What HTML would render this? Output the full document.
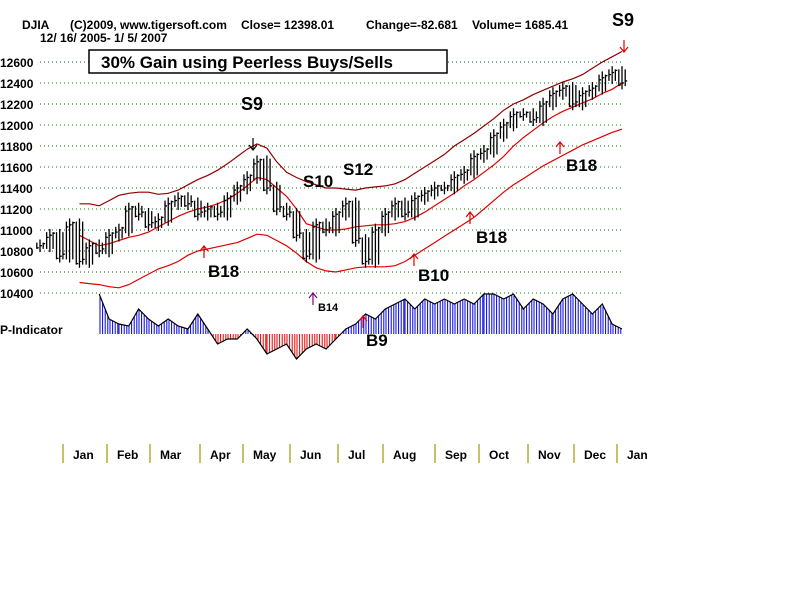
<!DOCTYPE html>
<html><head><meta charset="utf-8"><style>
body{margin:0;background:#fff;}
svg{display:block;font-family:"Liberation Sans",Arial,sans-serif;}
</style></head><body>
<svg id="chart" width="800" height="600">
<g font-size="12" font-weight="bold" fill="#000">
<text x="22" y="29">DJIA</text>
<text x="70" y="29">(C)2009, www.tigersoft.com</text>
<text x="241" y="29">Close=  12398.01</text>
<text x="366" y="29">Change=-82.681</text>
<text x="472" y="29">Volume=  1685.41</text>
<text x="40" y="42">12/ 16/ 2005- 1/ 5/ 2007</text>
</g>
<g id="grid"></g>
<g>
<rect x="89" y="50" width="358" height="23" fill="#fff" stroke="#000" stroke-width="1.5"/>
<text x="101" y="68" font-size="17" font-weight="bold">30% Gain using Peerless Buys/Sells</text>
</g>
<g id="bands"></g>
<g id="bars"></g>
<g id="pind"></g>
<text x="0" y="334" font-size="12" font-weight="bold">P-Indicator</text>
<g id="signals" font-weight="bold"></g>
<g id="months"></g>
</svg>
<script>
const NS="http://www.w3.org/2000/svg";
const closes=[10850,10950,10750,11050,10700,10850,10800,10950,11000,11200,11150,11050,11100,11250,11300,11250,11150,11200,11150,11300,11400,11500,11650,11400,11200,11150,10950,10750,11050,11000,11150,11250,10900,10700,11000,11150,11250,11150,11300,11350,11400,11400,11500,11550,11700,11750,11900,12000,12100,12100,12050,12200,12300,12350,12200,12300,12350,12450,12500,12400];
const upperBand=[null,null,null,null,11250,11250,11230,11280,11330,11350,11360,11360,11340,11350,11380,11430,11480,11520,11570,11630,11700,11770,11820,11780,11650,11550,11500,11460,11430,11400,11400,11390,11380,11400,11410,11420,11440,11480,11540,11600,11660,11720,11800,11860,11920,11990,12060,12140,12200,12240,12290,12330,12370,12410,12440,12480,12540,12600,12650,12700];
const midBand=[null,null,null,null,10950,10900,10850,10870,10900,10930,10950,10980,11030,11080,11130,11170,11200,11220,11250,11290,11350,11420,11500,11480,11400,11320,11200,11060,11030,11000,11000,11010,11030,11040,11050,11050,11060,11080,11120,11170,11230,11290,11350,11420,11480,11550,11620,11700,11800,11880,11950,12020,12080,12130,12170,12210,12250,12300,12340,12400];
const lowerBand=[null,null,null,null,10500,10490,10480,10460,10450,10480,10530,10580,10630,10660,10700,10760,10800,10820,10840,10860,10880,10920,10960,10950,10900,10850,10780,10700,10640,10610,10600,10620,10640,10650,10650,10650,10660,10700,10760,10820,10880,10940,11000,11060,11120,11200,11280,11360,11430,11490,11550,11610,11660,11710,11760,11810,11850,11890,11930,11960];
const pInd=[null,null,null,null,null,null,40,15,10,8,25,15,8,15,8,5,20,5,-10,-5,-5,5,-5,-20,-15,-10,-25,-15,-10,-15,-5,5,10,20,15,25,30,35,25,35,30,35,30,35,30,40,40,35,40,25,35,30,20,35,40,30,20,30,10,5];
const gridLevels=[12600,12400,12200,12000,11800,11600,11400,11200,11000,10800,10600,10400];
const months=["Jan","Feb","Mar","Apr","May","Jun","Jul","Aug","Sep","Oct","Nov","Dec","Jan"];
const monthTicks=[63,107,150,200,243,290,338,383,435,479,528,574,617];

const X0=40,X1=622;
function xs(i){return X0+(X1-X0)*i/(closes.length-1);}
function ys(v){return 62+(12600-v)/200*21;}
function pys(v){return 334-v;}
function mk(tag,attrs,parent){const e=document.createElementNS(NS,tag);for(const k in attrs)e.setAttribute(k,attrs[k]);parent.appendChild(e);return e;}

const grid=document.getElementById('grid');
gridLevels.forEach(v=>{
  const g=mk('g',{},grid);
  
  
  mk('line',{x1:40,x2:623,y1:ys(v),y2:ys(v),stroke:'#070',"stroke-dasharray":"1,3","stroke-width":1},g);
  const t=mk('text',{x:0,y:ys(v)+5,"font-size":12,"font-weight":"bold"},g);t.textContent=v;
});

const bands=document.getElementById('bands');
function band(arr,color,name){
  let d="";arr.forEach((v,i)=>{if(v==null)return;d+=(d?"L":"M")+xs(i).toFixed(1)+","+ys(v).toFixed(1);});
  const p=mk('path',{d:d,fill:'none',stroke:color,"stroke-width":1.2},bands);
  
  
}
band(upperBand,'#900000','upper-band');
band(midBand,'#e00000','moving-average');
band(lowerBand,'#e00000','lower-band');

const bars=document.getElementById('bars');
closes.forEach((c,i)=>{
  const prev=i>0?closes[i-1]:c;
  const hi=Math.max(c,prev)+60, lo=Math.min(c,prev)-60;
  const x=xs(i);
  const g=mk('g',{stroke:'#000',"stroke-width":1.3},bars);
  
  
  for(let k=-1;k<=1;k++){
    mk('line',{x1:x+k*3.2,x2:x+k*3.2,y1:ys(hi-30*Math.abs(k)),y2:ys(lo+30*Math.abs(k))},g);
    mk('line',{x1:x+k*3.2,x2:x+k*3.2+2,y1:ys(c+(k*20)),y2:ys(c+(k*20))},g);
  }
});

const pg=document.getElementById('pind');
let pd="";
for(let i=0;i<pInd.length-1;i++){
  if(pInd[i]==null||pInd[i+1]==null)continue;
  const xa=xs(i),xb=xs(i+1);
  for(let x=Math.ceil(xa);x<xb;x+=2.6){
    const t=(x-xa)/(xb-xa),v=pInd[i]+(pInd[i+1]-pInd[i])*t;
    const l=mk('line',{x1:x,x2:x,y1:334,y2:pys(v),stroke:v>=0?'#0000e0':'#e00000',"stroke-width":1},pg);
    
    
  }
}
pInd.forEach((v,i)=>{if(v==null)return;pd+=(pd?"L":"M")+xs(i).toFixed(1)+","+pys(v).toFixed(1);});
const pl=mk('path',{d:pd,fill:'none',stroke:'#000',"stroke-width":1.2},pg);



const sig=document.getElementById('signals');
function signal(label,x,y,size,ax,ay,down,color,name){
  const g=mk('g',{},sig);
  
  
  const t=mk('text',{x:x,y:y,"font-size":size},g);t.textContent=label;
  if(ax!=null){
    const d=down?`M${ax},${ay-12}L${ax},${ay}M${ax-4},${ay-5}L${ax},${ay}L${ax+4},${ay-5}`:`M${ax},${ay+12}L${ax},${ay}M${ax-4},${ay+5}L${ax},${ay}L${ax+4},${ay+5}`;
    mk('path',{d:d,stroke:color,fill:'none',"stroke-width":1.2},g);
  }
}
signal('S9',612,26,18,624,52,true,'#e00000','signal-s9-jan');
signal('S9',241,110,18,253,150,true,'#000','signal-s9-may');
signal('S10',303,187,17,null,null,false,'#000','signal-s10');
signal('S12',343,175,17,null,null,false,'#000','signal-s12');
signal('B18',208,277,17,204,246,false,'#e00000','signal-b18-apr');
signal('B10',418,281,17,414,254,false,'#e00000','signal-b10');
signal('B18',476,243,17,470,212,false,'#e00000','signal-b18-sep');
signal('B18',566,171,17,560,142,false,'#e00000','signal-b18-nov');
signal('B14',318,311,11,313,293,false,'#800080','signal-b14');
signal('B9',366,346,17,363,316,false,'#e00000','signal-b9');

const mg=document.getElementById('months');
months.forEach((m,i)=>{
  const g=mk('g',{},mg);
  
  
  const x=monthTicks[i];
  mk('line',{x1:x,x2:x,y1:444,y2:463,stroke:'#999900',"stroke-width":1.2},g);
  const t=mk('text',{x:x+10,y:459,"font-size":12,"font-weight":"bold"},g);t.textContent=m;
});
</script>
</body></html>
